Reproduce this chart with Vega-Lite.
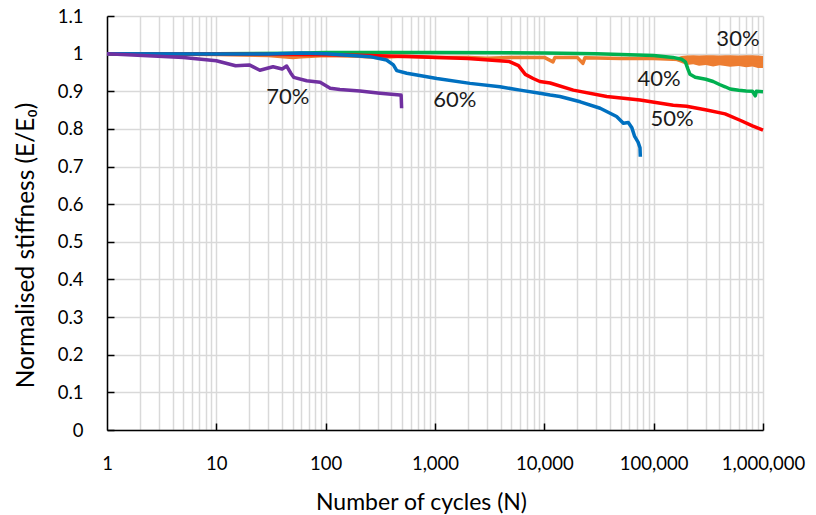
{
  "$schema": "https://vega.github.io/schema/vega-lite/v6.json",
  "width": 656,
  "height": 414,
  "autosize": {"type": "none"},
  "padding": {"left": 107, "top": 16, "right": 53, "bottom": 85},
  "config": {"view": {"stroke": null}, "font": "Lato"},
  "encoding": {
    "x": {
      "field": "N", "type": "quantitative",
      "scale": {"type": "log", "domain": [1, 1000000], "nice": false},
      "axis": {
        "title": "Number  of cycles (N)",
        "titleFont": "Lato", "titleFontSize": 23, "titleFontWeight": "normal", "titleColor": "#000",
        "titleX": 314, "titleY": 72, "titleBaseline": "middle", "titleAlign": "center",
        "values": [1,2,3,4,5,6,7,8,9,10,20,30,40,50,60,70,80,90,100,200,300,400,500,600,700,800,900,1000,2000,3000,4000,5000,6000,7000,8000,9000,10000,20000,30000,40000,50000,60000,70000,80000,90000,100000,200000,300000,400000,500000,600000,700000,800000,900000,1000000],
        "format": ",",
        "labelExpr": "indexof([1,10,100,1000,10000,100000,1000000], datum.value) >= 0 ? datum.label : ''",
        "labelOverlap": false, "labelBound": false, "labelFlush": false,
        "labelFont": "Lato", "labelFontSize": 18.5, "labelColor": "#000", "labelPadding": 31,
        "grid": true, "gridColor": "#d9d9d9", "gridWidth": 1.5,
        "domainColor": "#000", "domainWidth": 1.5,
        "tickSize": -7, "tickWidth": 1.5,
        "tickColor": {"condition": {"test": "indexof([10,100,1000,10000,100000,1000000], datum.value) >= 0", "value": "#000"}, "value": "transparent"}
      }
    },
    "y": {
      "field": "E", "type": "quantitative",
      "scale": {"domain": [0, 1.1], "nice": false},
      "axis": {
        "title": "Normalised stiffness (E/E₀)",
        "titleFont": "Lato", "titleFontSize": 24.5, "titleFontWeight": "normal", "titleColor": "#000",
        "titleX": -81, "titleY": 229, "titleAngle": -90, "titleBaseline": "middle", "titleAlign": "center",
        "values": [0, 0.1, 0.2, 0.3, 0.4, 0.5, 0.6, 0.7, 0.8, 0.9, 1, 1.1],
        "format": ".1~f",
        "labelFont": "Lato", "labelFontSize": 18.5, "labelColor": "#000", "labelPadding": 31,
        "grid": true, "gridColor": "#d9d9d9", "gridWidth": 1.5,
        "domainColor": "#000", "domainWidth": 1.5,
        "tickSize": -7, "tickWidth": 1.5, "tickColor": "#000"
      }
    }
  },
  "layer": [
    {
      "data": {"values": [
        {"N": 150000, "E": 0.987, "E2": 0.984},
        {"N": 180000, "E": 0.994, "E2": 0.975},
        {"N": 200000, "E": 0.995, "E2": 0.97},
        {"N": 230000, "E": 0.996, "E2": 0.972},
        {"N": 260000, "E": 0.995, "E2": 0.968},
        {"N": 300000, "E": 0.996, "E2": 0.97},
        {"N": 350000, "E": 0.996, "E2": 0.966},
        {"N": 400000, "E": 0.995, "E2": 0.969},
        {"N": 450000, "E": 0.996, "E2": 0.967},
        {"N": 500000, "E": 0.996, "E2": 0.965},
        {"N": 600000, "E": 0.995, "E2": 0.967},
        {"N": 700000, "E": 0.996, "E2": 0.964},
        {"N": 800000, "E": 0.996, "E2": 0.966},
        {"N": 900000, "E": 0.995, "E2": 0.962},
        {"N": 1000000, "E": 0.994, "E2": 0.962}
      ]},
      "mark": {"type": "area", "color": "#ED7D31", "opacity": 1},
      "encoding": {"y2": {"field": "E2"}}
    },
    {
      "data": {"values": [
        {"series": "30%", "N": 1, "E": 1.0},
        {"series": "30%", "N": 3, "E": 0.999},
        {"series": "30%", "N": 10, "E": 0.998},
        {"series": "30%", "N": 30, "E": 0.995},
        {"series": "30%", "N": 50, "E": 0.99},
        {"series": "30%", "N": 60, "E": 0.992},
        {"series": "30%", "N": 100, "E": 0.995},
        {"series": "30%", "N": 200, "E": 0.993},
        {"series": "30%", "N": 300, "E": 0.99},
        {"series": "30%", "N": 500, "E": 0.993},
        {"series": "30%", "N": 1000, "E": 0.99},
        {"series": "30%", "N": 2000, "E": 0.99},
        {"series": "30%", "N": 3000, "E": 0.988},
        {"series": "30%", "N": 5000, "E": 0.99},
        {"series": "30%", "N": 10000, "E": 0.99},
        {"series": "30%", "N": 12000, "E": 0.978},
        {"series": "30%", "N": 12500, "E": 0.99},
        {"series": "30%", "N": 20000, "E": 0.99},
        {"series": "30%", "N": 22500, "E": 0.974},
        {"series": "30%", "N": 23500, "E": 0.989},
        {"series": "30%", "N": 50000, "E": 0.987},
        {"series": "30%", "N": 100000, "E": 0.987},
        {"series": "30%", "N": 150000, "E": 0.985},
        {"series": "30%", "N": 1000000, "E": 0.978},

        {"series": "40%", "N": 1, "E": 1.0},
        {"series": "40%", "N": 10, "E": 1.0},
        {"series": "40%", "N": 50, "E": 1.001},
        {"series": "40%", "N": 100, "E": 1.003},
        {"series": "40%", "N": 1000, "E": 1.003},
        {"series": "40%", "N": 10000, "E": 1.002},
        {"series": "40%", "N": 30000, "E": 1.0},
        {"series": "40%", "N": 100000, "E": 0.995},
        {"series": "40%", "N": 150000, "E": 0.99},
        {"series": "40%", "N": 180000, "E": 0.985},
        {"series": "40%", "N": 195000, "E": 0.978},
        {"series": "40%", "N": 205000, "E": 0.96},
        {"series": "40%", "N": 215000, "E": 0.945},
        {"series": "40%", "N": 240000, "E": 0.937},
        {"series": "40%", "N": 300000, "E": 0.932},
        {"series": "40%", "N": 350000, "E": 0.926},
        {"series": "40%", "N": 400000, "E": 0.918},
        {"series": "40%", "N": 450000, "E": 0.912},
        {"series": "40%", "N": 500000, "E": 0.906},
        {"series": "40%", "N": 600000, "E": 0.903},
        {"series": "40%", "N": 700000, "E": 0.901},
        {"series": "40%", "N": 800000, "E": 0.9},
        {"series": "40%", "N": 850000, "E": 0.888},
        {"series": "40%", "N": 870000, "E": 0.9},
        {"series": "40%", "N": 1000000, "E": 0.899},

        {"series": "50%", "N": 1, "E": 1.0},
        {"series": "50%", "N": 10, "E": 0.999},
        {"series": "50%", "N": 100, "E": 0.997},
        {"series": "50%", "N": 200, "E": 0.996},
        {"series": "50%", "N": 700, "E": 0.992},
        {"series": "50%", "N": 2000, "E": 0.987},
        {"series": "50%", "N": 4800, "E": 0.979},
        {"series": "50%", "N": 5800, "E": 0.968},
        {"series": "50%", "N": 6300, "E": 0.955},
        {"series": "50%", "N": 6700, "E": 0.945},
        {"series": "50%", "N": 7900, "E": 0.934},
        {"series": "50%", "N": 9100, "E": 0.926},
        {"series": "50%", "N": 11300, "E": 0.922},
        {"series": "50%", "N": 18400, "E": 0.903},
        {"series": "50%", "N": 37200, "E": 0.886},
        {"series": "50%", "N": 75000, "E": 0.877},
        {"series": "50%", "N": 151000, "E": 0.863},
        {"series": "50%", "N": 200000, "E": 0.86},
        {"series": "50%", "N": 305000, "E": 0.85},
        {"series": "50%", "N": 450000, "E": 0.84},
        {"series": "50%", "N": 617000, "E": 0.823},
        {"series": "50%", "N": 800000, "E": 0.808},
        {"series": "50%", "N": 1000000, "E": 0.797},

        {"series": "60%", "N": 1, "E": 1.0},
        {"series": "60%", "N": 10, "E": 0.999},
        {"series": "60%", "N": 30, "E": 0.999},
        {"series": "60%", "N": 60, "E": 1.002},
        {"series": "60%", "N": 100, "E": 1.0},
        {"series": "60%", "N": 254, "E": 0.992},
        {"series": "60%", "N": 360, "E": 0.983},
        {"series": "60%", "N": 416, "E": 0.97},
        {"series": "60%", "N": 447, "E": 0.955},
        {"series": "60%", "N": 552, "E": 0.948},
        {"series": "60%", "N": 1040, "E": 0.934},
        {"series": "60%", "N": 2090, "E": 0.921},
        {"series": "60%", "N": 3930, "E": 0.912},
        {"series": "60%", "N": 6000, "E": 0.903},
        {"series": "60%", "N": 9100, "E": 0.895},
        {"series": "60%", "N": 11300, "E": 0.89},
        {"series": "60%", "N": 13900, "E": 0.886},
        {"series": "60%", "N": 21300, "E": 0.872},
        {"series": "60%", "N": 32400, "E": 0.855},
        {"series": "60%", "N": 45800, "E": 0.833},
        {"series": "60%", "N": 52800, "E": 0.815},
        {"series": "60%", "N": 58600, "E": 0.817},
        {"series": "60%", "N": 63000, "E": 0.804},
        {"series": "60%", "N": 67000, "E": 0.78},
        {"series": "60%", "N": 72000, "E": 0.765},
        {"series": "60%", "N": 75000, "E": 0.75},
        {"series": "60%", "N": 75500, "E": 0.726},

        {"series": "70%", "N": 1, "E": 1.0},
        {"series": "70%", "N": 5, "E": 0.99},
        {"series": "70%", "N": 10, "E": 0.981},
        {"series": "70%", "N": 15, "E": 0.968},
        {"series": "70%", "N": 20, "E": 0.97},
        {"series": "70%", "N": 25, "E": 0.956},
        {"series": "70%", "N": 33, "E": 0.965},
        {"series": "70%", "N": 40, "E": 0.959},
        {"series": "70%", "N": 44, "E": 0.967},
        {"series": "70%", "N": 48, "E": 0.948},
        {"series": "70%", "N": 51, "E": 0.937},
        {"series": "70%", "N": 67, "E": 0.928},
        {"series": "70%", "N": 89, "E": 0.924},
        {"series": "70%", "N": 110, "E": 0.908},
        {"series": "70%", "N": 135, "E": 0.905},
        {"series": "70%", "N": 206, "E": 0.901},
        {"series": "70%", "N": 314, "E": 0.895},
        {"series": "70%", "N": 478, "E": 0.89},
        {"series": "70%", "N": 490, "E": 0.89},
        {"series": "70%", "N": 495, "E": 0.855}
      ]},
      "mark": {"type": "line", "strokeWidth": 3.5, "strokeJoin": "round"},
      "encoding": {
        "color": {
          "field": "series", "type": "nominal", "legend": null,
          "scale": {"domain": ["30%", "40%", "50%", "60%", "70%"], "range": ["#ED7D31", "#00B050", "#FF0000", "#0070C0", "#7030A0"]}
        }
      }
    },
    {
      "data": {"values": [
        {"N": 590000, "E": 1.039, "label": "30%"},
        {"N": 112000, "E": 0.933, "label": "40%"},
        {"N": 147000, "E": 0.826, "label": "50%"},
        {"N": 1520, "E": 0.877, "label": "60%"},
        {"N": 45, "E": 0.885, "label": "70%"}
      ]},
      "mark": {"type": "text", "font": "Lato", "fontSize": 22, "color": "#1a1a1a", "align": "center", "baseline": "middle"},
      "encoding": {"text": {"field": "label", "type": "nominal"}}
    }
  ]
}
